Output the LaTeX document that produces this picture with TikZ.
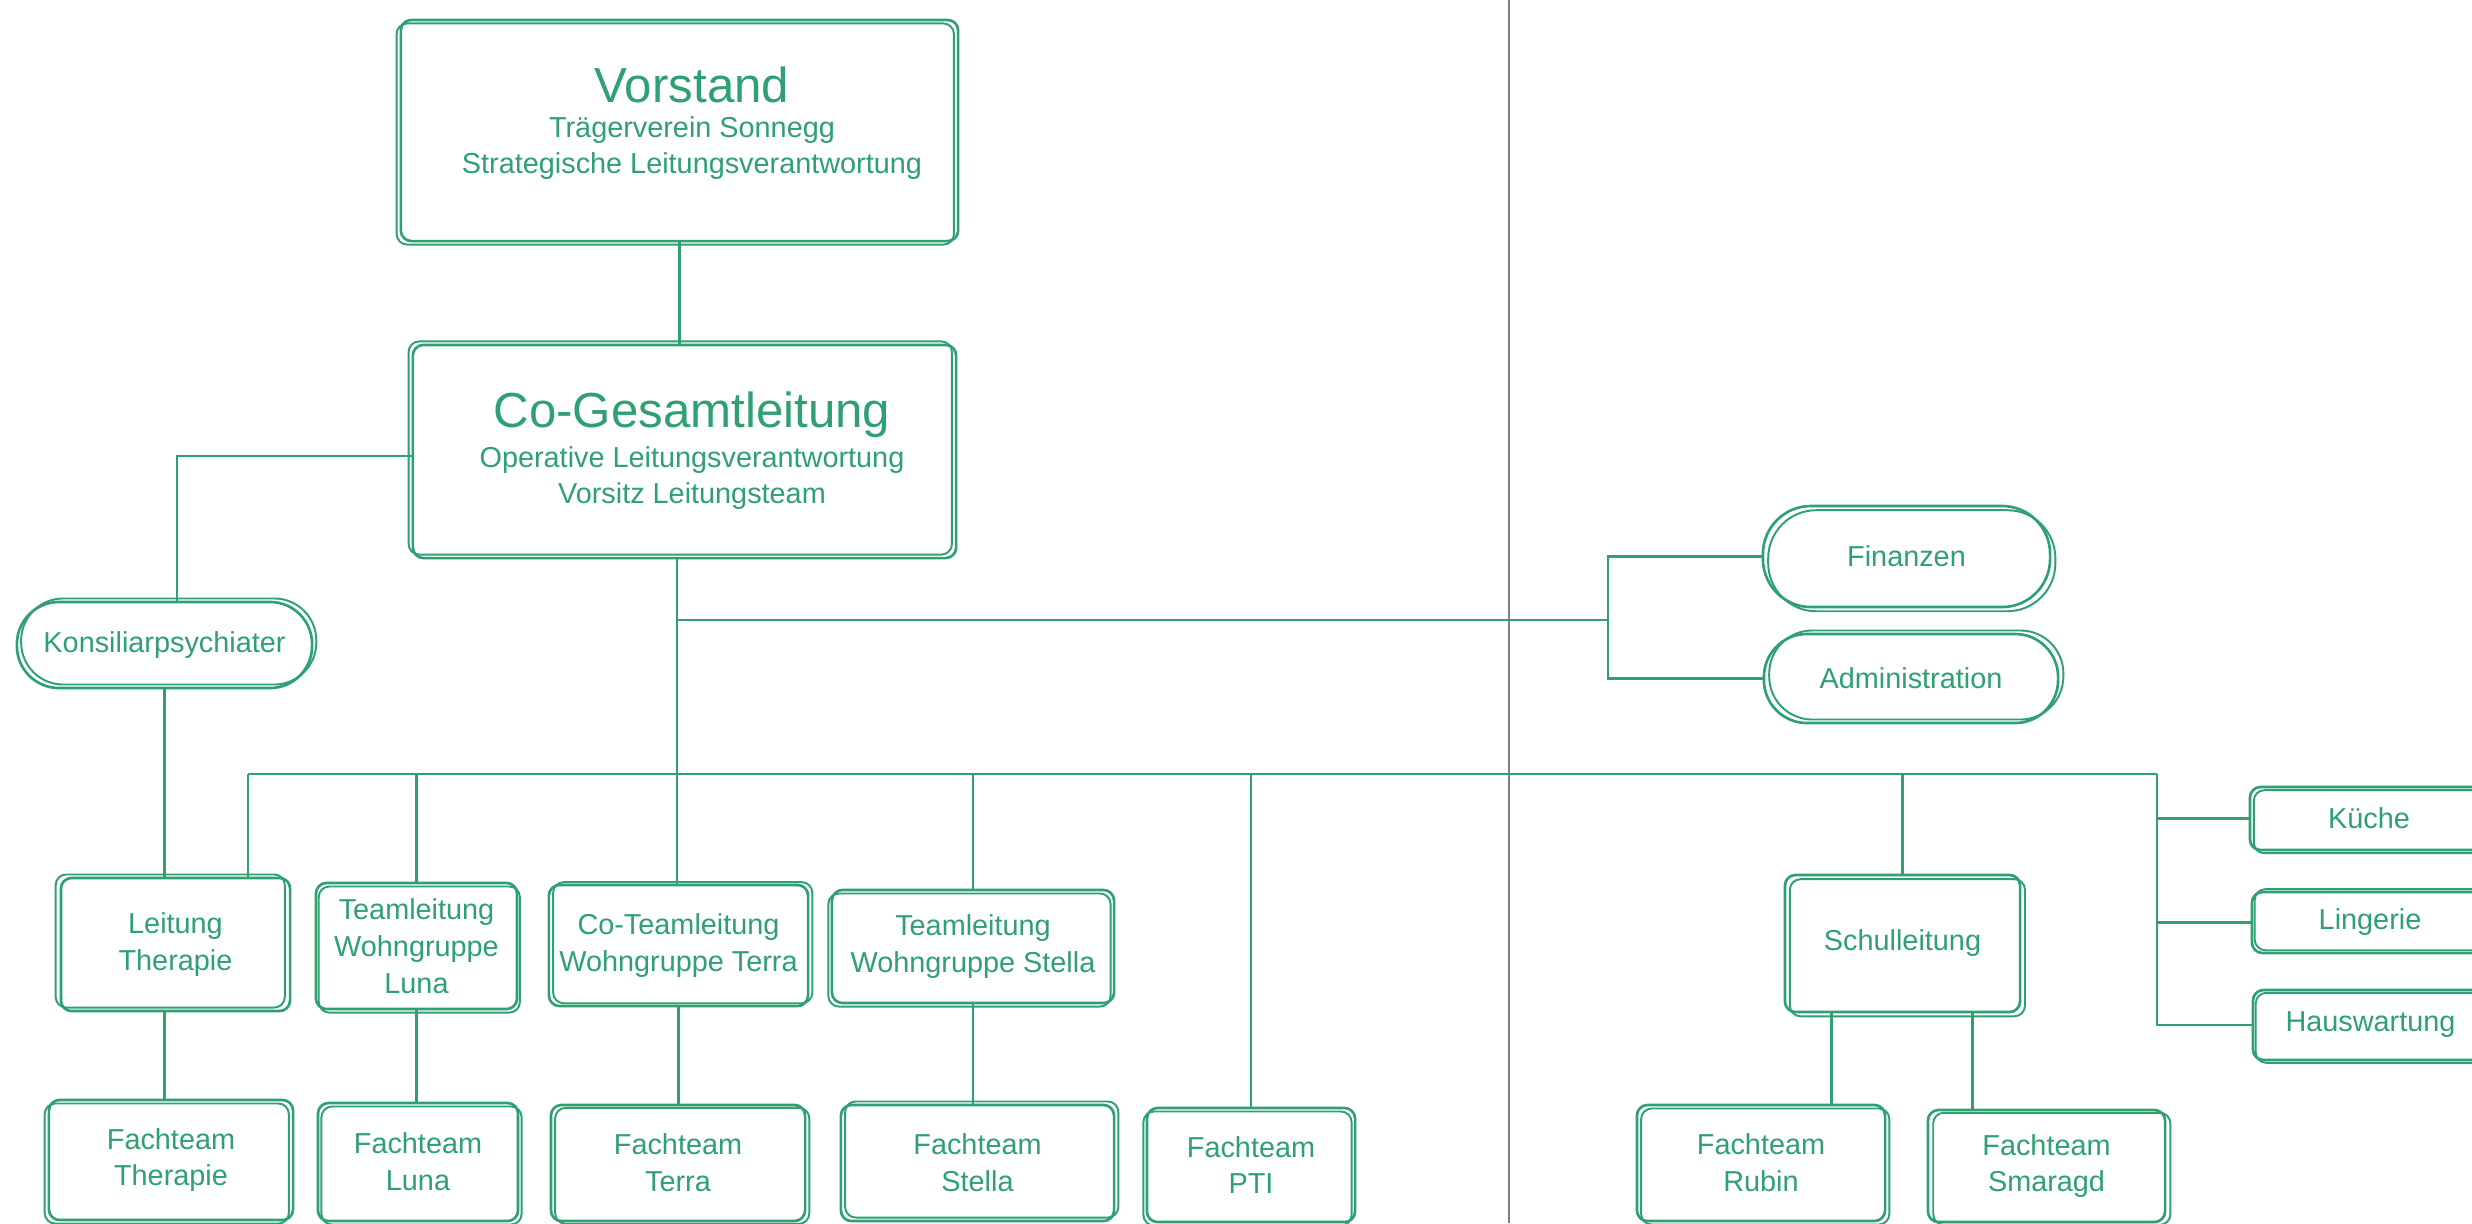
\documentclass[tikz,border=0pt]{standalone}
\usepackage{fontspec}
\setmainfont{Liberation Sans}
\usetikzlibrary{calc}
\definecolor{gr}{HTML}{2FA072}
\definecolor{sepc}{HTML}{7F7F7F}
\begin{document}
\begin{tikzpicture}[x=0.01cm,y=-0.01cm,
  sk/.style={draw=gr, line width=0.75pt, rounded corners=3pt, inner sep=0pt, align=center, text=gr,
     font=\fontsize{8.2}{10.5}\selectfont,
     postaction={draw=gr, line width=0.55pt, transform canvas={shift={#1}}}},
  sk/.default={(1.1pt,-0.9pt)},
  con/.style={draw=gr, line width=0.6pt},
  ttl/.style={text=gr, font=\fontsize{14}{16}\selectfont, inner sep=0pt},
  sub/.style={text=gr, font=\fontsize{8.2}{10.2}\selectfont, align=center, inner sep=0pt},
]
\useasboundingbox (0,0) rectangle (2472,1223);
\fill[white] (0,0) rectangle (2472,1223);
\clip (0,0) rectangle (2472,1223);

% separator
\coordinate (sepT) at (1509,0);
\coordinate (sepB) at (1509,1223);
\draw[sepc, line width=0.6pt] (sepT) -- (sepB);

% top boxes
\node[sk={(-1.2pt,-1pt)}, minimum width=5.57cm, minimum height=2.21cm] (vorstand) at (679.5,130.5) {};
\node[ttl] (vt) at (692,85) {Vorstand};
\node[sub] (vs) at (692,148) {Trägerverein Sonnegg\\Strategische Leitungsverantwortung};

\node[sk={(-1.2pt,1pt)}, minimum width=5.43cm, minimum height=2.13cm] (cogl) at (684.5,451.5) {};
\node[ttl] (ct) at (692,415) {Co-Gesamtleitung};
\node[sub] (cs) at (692,478) {Operative Leitungsverantwortung\\Vorsitz Leitungsteam};

% pills
\node[sk={(1.2pt,1pt)}, rounded corners=0.42cm, minimum width=2.95cm, minimum height=0.86cm] (kons) at (164.5,645) {Konsiliarpsychiater};
\node[sk={(1.5pt,-1.2pt)}, rounded corners=0.48cm, minimum width=2.87cm, minimum height=1.01cm] (fin) at (1906.5,556.5) {Finanzen};
\node[sk={(1.5pt,1pt)}, rounded corners=0.43cm, minimum width=2.94cm, minimum height=0.89cm] (adm) at (1911,678.5) {Administration};

% right services
\node[sk, minimum width=2.38cm, minimum height=0.63cm] (kueche) at (2369,818.5) {Küche};
\node[sk={(0.8pt,0.8pt)}, minimum width=2.36cm, minimum height=0.61cm] (ling) at (2370,922.5) {Lingerie};
\node[sk={(0.8pt,-0.8pt)}, minimum width=2.35cm, minimum height=0.70cm] (haus) at (2370.5,1025) {Hauswartung};

% middle row
\node[sk={(-1.5pt,1pt)}, minimum width=2.29cm, minimum height=1.33cm] (lth) at (175.5,944.5) {Leitung\\Therapie};
\node[sk={(0.8pt,-1pt)}, minimum width=2.01cm, minimum height=1.26cm] (luna) at (416.5,946) {Teamleitung\\Wohngruppe\\Luna};
\node[sk={(1.2pt,0.8pt)}, minimum width=2.59cm, minimum height=1.21cm] (terra) at (678.5,945.5) {Co-Teamleitung\\Wohngruppe Terra};
\node[sk={(-1pt,-1pt)}, minimum width=2.82cm, minimum height=1.13cm] (stella) at (973,946.5) {Teamleitung\\Wohngruppe Stella};
\node[sk={(1.4pt,-1.2pt)}, minimum width=2.35cm, minimum height=1.37cm] (schul) at (1902.5,943.5) {Schulleitung};

% bottom row
\node[sk={(-1.2pt,-1pt)}, minimum width=2.44cm, minimum height=1.20cm] (ftth) at (171,1160) {Fachteam\\Therapie};
\node[sk={(1pt,-1pt)}, minimum width=2.00cm, minimum height=1.18cm] (ftluna) at (418,1162) {Fachteam\\Luna};
\node[sk={(1.2pt,-0.8pt)}, minimum width=2.54cm, minimum height=1.16cm] (ftterra) at (678,1163) {Fachteam\\Terra};
\node[sk={(1.2pt,1pt)}, minimum width=2.73cm, minimum height=1.16cm] (ftstella) at (977.5,1163) {Fachteam\\Stella};
\node[sk={(-1pt,-1pt)}, minimum width=2.08cm, minimum height=1.14cm] (ftpti) at (1251,1165) {Fachteam\\PTI};
\node[sk={(1.2pt,-1pt)}, minimum width=2.48cm, minimum height=1.16cm] (ftrubin) at (1761,1163) {Fachteam\\Rubin};
\node[sk={(1.5pt,-0.8pt)}, minimum width=2.37cm, minimum height=1.12cm] (ftsmaragd) at (2046.5,1166) {Fachteam\\Smaragd};

% connectors
\coordinate (kj) at (177,456);
\draw[con] (vorstand.south) -- (vorstand.south |- cogl.north);
\draw[con] (cogl.west |- kj) -- (kj) -- (kj |- kons.north);
\draw[con] (kons.south) -- (kons.south |- lth.north);
\draw[con] (kons.south |- lth.south) -- (kons.south |- ftth.north);

\coordinate (cj) at (677,620);
\draw[con] (cj |- cogl.south) -- (cj |- terra.north);
\coordinate (fj) at (1608,620);
\draw[con] (cj) -- (fj);
\draw[con] (fin.west) -| (fj) |- (adm.west);

\coordinate (busL) at (248,774);
\coordinate (busR) at (2157,774);
\draw[con] (busL) -- (busR);
\draw[con] (busL) -- (busL |- lth.north);
\draw[con] (luna.north) -- (luna.north |- busL);
\draw[con] (stella.north) -- (stella.north |- busL);
\draw[con] (ftpti.north) -- (ftpti.north |- busL);
\draw[con] (schul.north) -- (schul.north |- busL);
\draw[con] (busR) |- (haus.west);
\draw[con] (busR |- kueche.west) -- (kueche.west);
\draw[con] (busR |- ling.west) -- (ling.west);

\draw[con] (luna.south) -- (luna.south |- ftluna.north);
\draw[con] (terra.south) -- (terra.south |- ftterra.north);
\draw[con] (stella.south) -- (stella.south |- ftstella.north);
\coordinate (s1) at ($(schul.south)+(-71,0)$);
\coordinate (s2) at ($(schul.south)+(70,0)$);
\draw[con] (s1) -- (s1 |- ftrubin.north);
\draw[con] (s2) -- (s2 |- ftsmaragd.north);
\end{tikzpicture}
\end{document}
